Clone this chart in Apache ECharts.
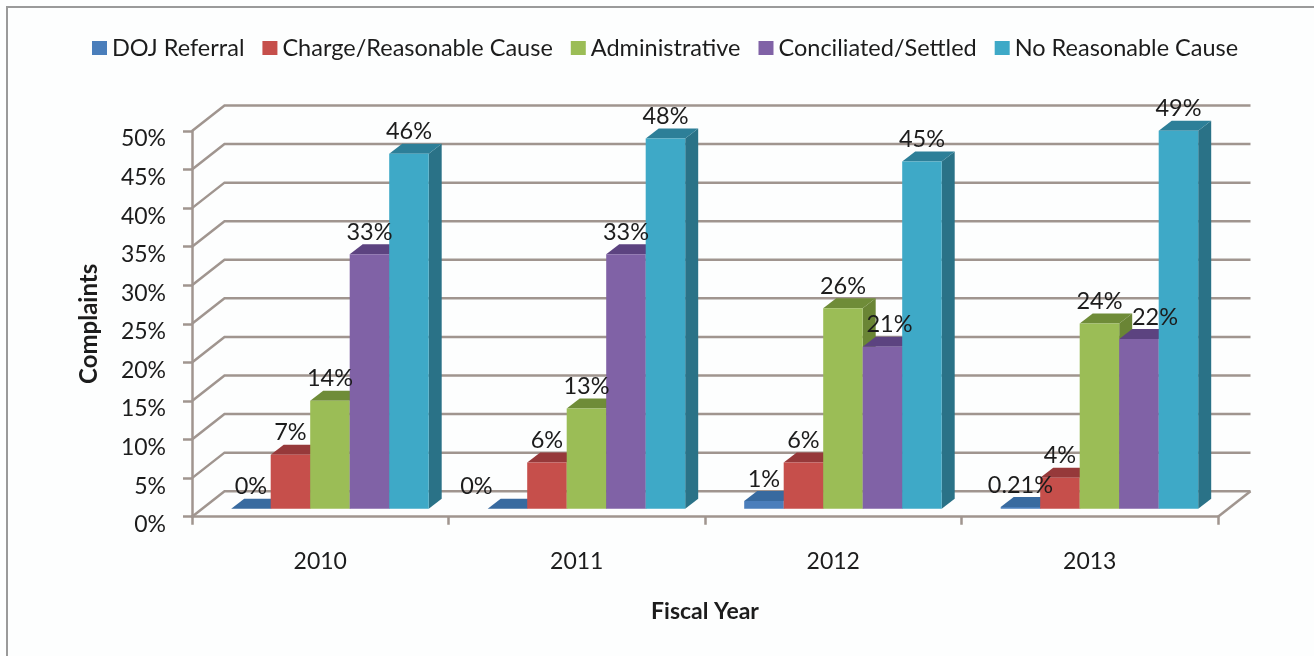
<!DOCTYPE html>
<html>
<head>
<meta charset="utf-8">
<style>html,body{margin:0;padding:0;background:#fff}#chart{width:1314px;height:656px}</style>
<script src="https://cdn.jsdelivr.net/npm/echarts@6/dist/echarts.min.js"></script>
</head>
<body>
<div id="chart"></div>
<script>
const fiscalYears = ['2010', '2011', '2012', '2013'];
const dojReferral = [0, 0, 1, 0.21];
const chargeReasonableCause = [7, 6, 6, 4];
const administrative = [14, 13, 26, 24];
const conciliatedSettled = [33, 33, 21, 22];
const noReasonableCause = [46, 48, 45, 49];
const percentTicks = [0, 5, 10, 15, 20, 25, 30, 35, 40, 45, 50];

const FONT = 'Lato, "Open Sans", sans-serif';
const INK = '#1c1c1c';
const RULE = '#a0958f';

// Oblique projection used for the fake-3D box: wall depth, bar inset, bar depth.
const WALL = [32.5, -25.5];
const INSET = [9.7, -8];
const DEPTH = [13, -10];
const BAR_W = 39.5;

// Hand placement of labels that would otherwise collide with a neighbouring bar.
const labelNudge = { '0|1': -31, '3|2': 7, '3|3': 16 };

const groups = [
  { name: 'DOJ Referral', values: dojReferral, front: '#4a7ebb', top: '#386a9f', side: '#2f5a88' },
  { name: 'Charge/Reasonable Cause', values: chargeReasonableCause, front: '#c64f4b', top: '#96393a', side: '#8a3432' },
  { name: 'Administrative', values: administrative, front: '#9bbd56', top: '#6f8c38', side: '#6a8535' },
  { name: 'Conciliated/Settled', values: conciliatedSettled, front: '#8062a6', top: '#5c4380', side: '#573e78' },
  { name: 'No Reasonable Cause', values: noReasonableCause, front: '#3ea9c7', top: '#2d7f98', side: '#2a7287' }
];

function barLeft(api, cat, slot) {
  return api.coord([cat, 0])[0] + INSET[0] + (slot - 2.5) * BAR_W;
}

function renderBar(group, slot) {
  return function (params, api) {
    const cat = api.value(0);
    const val = api.value(1);
    const x0 = barLeft(api, cat, slot);
    const x1 = x0 + BAR_W;
    const yBase = api.coord([cat, 0])[1] + INSET[1];
    const yTop = api.coord([cat, val])[1] + INSET[1];
    const dx = DEPTH[0];
    const dy = DEPTH[1];
    return {
      type: 'group',
      children: [
        { type: 'polygon', shape: { points: [[x1, yBase], [x1 + dx, yBase + dy], [x1 + dx, yTop + dy], [x1, yTop]] }, style: { fill: group.side } },
        { type: 'polygon', shape: { points: [[x0, yTop], [x0 + dx, yTop + dy], [x1 + dx, yTop + dy], [x1, yTop]] }, style: { fill: group.top } },
        { type: 'rect', shape: { x: x0, y: yTop, width: BAR_W, height: yBase - yTop }, style: { fill: group.front } }
      ]
    };
  };
}

// Value labels live in their own series so they paint above every bar.
function renderLabel(params, api) {
  const cat = api.value(0);
  const val = api.value(1);
  const slot = api.value(2);
  const nudge = labelNudge[slot + '|' + cat] || 0;
  return {
    type: 'text',
    style: {
      x: barLeft(api, cat, slot) + BAR_W / 2 + nudge,
      y: api.coord([cat, val])[1] + INSET[1] - 22,
      text: val + '%',
      align: 'center', verticalAlign: 'middle',
      font: '23.5px ' + FONT, fill: INK
    }
  };
}

// Gridlines bend from the front plane back along the side wall and across the rear wall.
function renderWall(params, api) {
  const tick = api.value(0);
  const half = api.size([1, 0])[0] / 2;
  const mid = api.coord([0, tick]);
  const xL = mid[0] - half;
  const xR = mid[0] + half * 7;
  const y = mid[1];
  const children = [{
    type: 'polyline',
    shape: { points: [[xL, y], [xL + WALL[0], y + WALL[1]], [xR + WALL[0], y + WALL[1]]] },
    style: { stroke: RULE, lineWidth: 2.5, fill: 'none' }
  }];
  if (tick === 0) {
    children.push({
      type: 'line',
      shape: { x1: xR, y1: y, x2: xR + WALL[0], y2: y + WALL[1] },
      style: { stroke: RULE, lineWidth: 2.5 }
    });
  }
  return { type: 'group', children };
}

const labelRows = [];
groups.forEach((g, slot) => g.values.forEach((v, c) => labelRows.push([c, v, slot])));

const series = [{
  type: 'custom', name: 'walls', z: 1, silent: true,
  coordinateSystem: 'cartesian2d', clip: false,
  data: percentTicks.map(t => [t]), encode: { y: 0 },
  renderItem: renderWall
}].concat(groups.map((g, i) => ({
  type: 'custom', name: g.name, z: 2 + i,
  coordinateSystem: 'cartesian2d', clip: false,
  itemStyle: { color: g.front },
  encode: { x: 0, y: 1 },
  data: g.values.map((v, c) => [c, v]),
  renderItem: renderBar(g, i)
}))).concat([{
  type: 'custom', name: 'labels', z: 20, silent: true,
  coordinateSystem: 'cartesian2d', clip: false,
  encode: { x: 0, y: 1 },
  data: labelRows,
  renderItem: renderLabel
}]);

const chart = echarts.init(document.getElementById('chart'), null, { renderer: 'canvas' });
chart.setOption({
  animation: false,
  backgroundColor: '#fdfefe',
  textStyle: { fontFamily: FONT, color: INK },
  graphic: [{
    type: 'rect', silent: true, z: 0,
    shape: { x: 7, y: 7, width: 1400, height: 700 },
    style: { fill: 'none', stroke: '#9a9a9a', lineWidth: 2 }
  }],
  grid: { left: 192, top: 131, width: 1026, height: 385.7, containLabel: false },
  legend: {
    data: groups.map(g => g.name),
    left: 87, top: 31,
    icon: 'rect', itemWidth: 15, itemHeight: 14, itemGap: 18,
    selectedMode: false,
    textStyle: { fontFamily: FONT, fontSize: 23.5, color: INK }
  },
  xAxis: {
    type: 'category', data: fiscalYears,
    name: 'Fiscal Year', nameLocation: 'middle', nameGap: 83,
    nameTextStyle: { fontFamily: FONT, fontSize: 23, fontWeight: 'bold', color: INK },
    axisLine: { lineStyle: { color: RULE, width: 2.5 } },
    axisTick: { show: true, length: 8, alignWithLabel: false, lineStyle: { color: RULE, width: 2.5 } },
    axisLabel: { fontFamily: FONT, fontSize: 23, color: INK, margin: 33 },
    splitLine: { show: false }
  },
  yAxis: {
    type: 'value', min: 0, max: 50, interval: 5,
    name: 'Complaints', nameLocation: 'middle', nameGap: 91, nameRotate: 90,
    nameTextStyle: { fontFamily: FONT, fontSize: 24, fontWeight: 'bold', color: INK },
    axisLine: { show: true, lineStyle: { color: RULE, width: 2.5 } },
    axisTick: { show: true, length: 9, lineStyle: { color: RULE, width: 2.5 } },
    axisLabel: { fontFamily: FONT, fontSize: 23, color: INK, margin: 26, verticalAlign: 'top', lineHeight: 16, formatter: '{value}%' },
    splitLine: { show: false }
  },
  series
});
</script>
</body>
</html>
